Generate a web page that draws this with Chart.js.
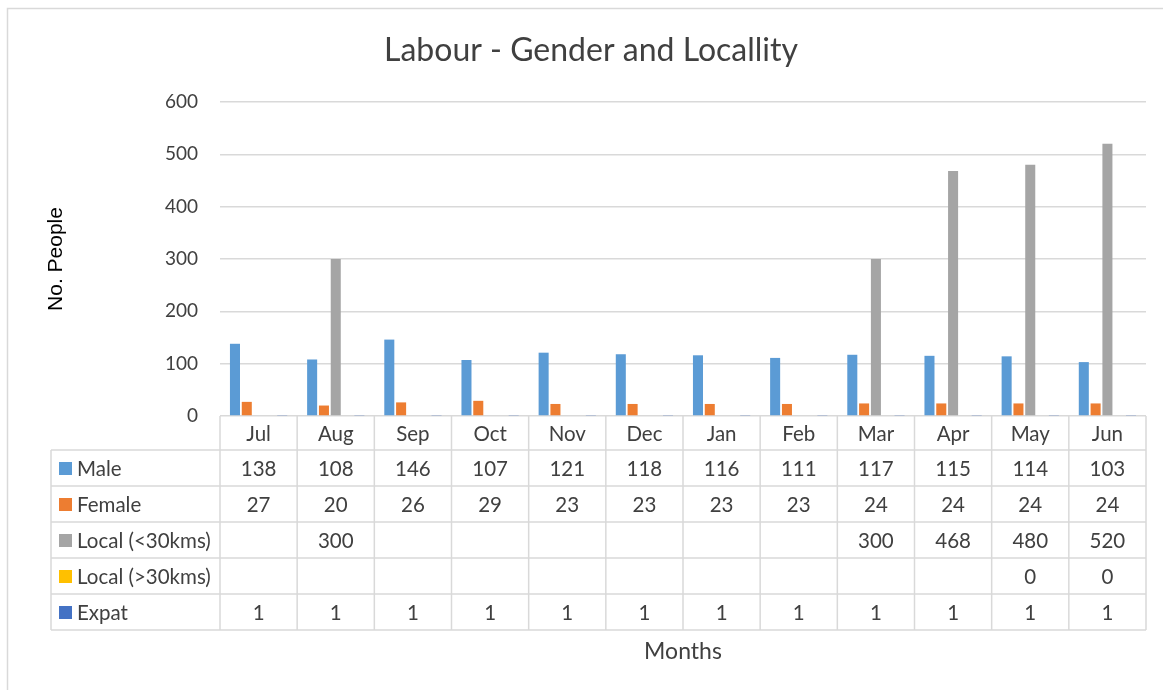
<!DOCTYPE html>
<html>
<head>
<meta charset="utf-8">
<script src="https://cdn.jsdelivr.net/npm/chart.js@4.4.0/dist/chart.umd.min.js"></script>
<style>
  html, body { margin: 0; padding: 0; background: #fff; }
  canvas { display: block; }
</style>
</head>
<body>
<canvas id="chart" width="1163" height="690"></canvas>
<script>
const MONTHS      = ['Jul', 'Aug', 'Sep', 'Oct', 'Nov', 'Dec', 'Jan', 'Feb', 'Mar', 'Apr', 'May', 'Jun'];
const MALE        = [138, 108, 146, 107, 121, 118, 116, 111, 117, 115, 114, 103];
const FEMALE      = [27, 20, 26, 29, 23, 23, 23, 23, 24, 24, 24, 24];
const LOCAL_NEAR  = [null, 300, null, null, null, null, null, null, 300, 468, 480, 520];
const LOCAL_FAR   = [null, null, null, null, null, null, null, null, null, null, 0, 0];
const EXPAT       = [1, 1, 1, 1, 1, 1, 1, 1, 1, 1, 1, 1];
const Y_TICKS     = [0, 100, 200, 300, 400, 500, 600];

const SERIES = [
    { label: 'Male',           data: MALE,       color: '#5B9BD5' },
    { label: 'Female',         data: FEMALE,     color: '#ED7D31' },
    { label: 'Local (<30kms)', data: LOCAL_NEAR, color: '#A5A5A5' },
    { label: 'Local (>30kms)', data: LOCAL_FAR,  color: '#FFC000' },
    { label: 'Expat',          data: EXPAT,      color: '#4472C4' }
];

const FONT       = 'Lato, "Open Sans", sans-serif';
const ARIAL      = '"Liberation Sans", Arial, sans-serif';
const TEXT_COLOR = '#404040';
const LINE_COLOR = '#D9D9D9';
const TABLE_LEFT = 51;
const HEADER_H   = 34;
const ROW_H      = 36;

// outer frame, like the Excel chart border
const framePlugin = {
    id: 'frame',
    beforeDraw(chart) {
        const ctx = chart.ctx;
        ctx.save();
        ctx.strokeStyle = LINE_COLOR;
        ctx.lineWidth = 1.5;
        ctx.beginPath();
        ctx.moveTo(7.5, chart.height);
        ctx.lineTo(7.5, 8.5);
        ctx.lineTo(chart.width, 8.5);
        ctx.stroke();
        ctx.restore();
    }
};

// data table under the plot, columns follow the x scale
const dataTablePlugin = {
    id: 'dataTable',
    afterDraw(chart) {
        const ctx = chart.ctx;
        const x = chart.scales.x;
        const area = chart.chartArea;
        const n = MONTHS.length;
        const step = (area.right - area.left) / n;
        const top = area.bottom;
        const rowsTop = top + HEADER_H;
        const bottom = rowsTop + ROW_H * SERIES.length;

        ctx.save();
        ctx.strokeStyle = LINE_COLOR;
        ctx.lineWidth = 1.5;
        ctx.beginPath();
        // vertical lines between categories
        for (let i = 0; i <= n; i++) {
            const px = area.left + i * step;
            ctx.moveTo(px, top);
            ctx.lineTo(px, bottom);
        }
        ctx.moveTo(TABLE_LEFT, rowsTop);
        ctx.lineTo(TABLE_LEFT, bottom);
        // horizontal lines
        for (let r = 0; r <= SERIES.length; r++) {
            const py = rowsTop + r * ROW_H;
            ctx.moveTo(TABLE_LEFT, py);
            ctx.lineTo(area.right, py);
        }
        ctx.stroke();

        ctx.fillStyle = TEXT_COLOR;
        ctx.font = '20.5px ' + FONT;
        ctx.textAlign = 'center';
        ctx.textBaseline = 'middle';
        MONTHS.forEach((m, i) => {
            ctx.fillText(m, x.getPixelForValue(i), top + HEADER_H / 2 + 1);
        });

        SERIES.forEach((s, r) => {
            const cy = rowsTop + r * ROW_H + ROW_H / 2 + 1;
            ctx.fillStyle = s.color;
            ctx.fillRect(TABLE_LEFT + 8, cy - 7, 13, 13);
            ctx.fillStyle = TEXT_COLOR;
            ctx.textAlign = 'left';
            ctx.fillText(s.label, TABLE_LEFT + 26, cy);
            ctx.textAlign = 'center';
            s.data.forEach((v, i) => {
                if (v === null) return;
                ctx.fillText(String(v), x.getPixelForValue(i), cy);
            });
        });
        ctx.restore();
    }
};

new Chart(document.getElementById('chart'), {
    type: 'bar',
    data: {
        labels: MONTHS,
        datasets: SERIES.map((s) => ({
            label: s.label,
            data: s.data,
            backgroundColor: s.color,
            borderWidth: 0,
            categoryPercentage: 0.765,
            barPercentage: 0.85
        }))
    },
    options: {
        responsive: false,
        animation: false,
        devicePixelRatio: 1,
        layout: { padding: { left: 19, right: 0, top: 0, bottom: 0 } },
        plugins: {
            legend: { display: false },
            tooltip: { enabled: false },
            title: {
                display: true,
                text: 'Labour - Gender and Locallity',
                color: TEXT_COLOR,
                font: { family: FONT, size: 32, weight: 'normal', lineHeight: 1.2 },
                padding: { top: 31, bottom: 32.6 }
            }
        },
        scales: {
            x: {
                grid: { display: false },
                border: { display: false },
                ticks: { display: false },
                title: {
                    display: true,
                    text: 'Months',
                    color: TEXT_COLOR,
                    font: { family: FONT, size: 23, lineHeight: 1.2 },
                    padding: { top: 0, bottom: 25 }
                },
                afterFit: (s) => { s.height = 274; }
            },
            y: {
                min: 0,
                max: 600,
                afterBuildTicks: (s) => { s.ticks = Y_TICKS.map((v) => ({ value: v })); },
                grid: { color: LINE_COLOR, lineWidth: 1.5, drawTicks: false },
                border: { display: false },
                ticks: {
                    color: TEXT_COLOR,
                    font: { family: FONT, size: 19 },
                    padding: 22
                },
                title: {
                    display: true,
                    text: 'No. People',
                    color: '#000000',
                    font: { family: ARIAL, size: 21, lineHeight: 1.2 },
                    padding: { top: 25, bottom: 0 }
                },
                afterFit: (s) => { s.width = 201; }
            },
            // empty right-hand strip so the plot ends where the reference does
            yRight: {
                type: 'linear',
                position: 'right',
                grid: { display: false },
                border: { display: false },
                ticks: { display: false },
                afterFit: (s) => { s.width = 17; }
            }
        }
    },
    plugins: [framePlugin, dataTablePlugin]
});
</script>
</body>
</html>
